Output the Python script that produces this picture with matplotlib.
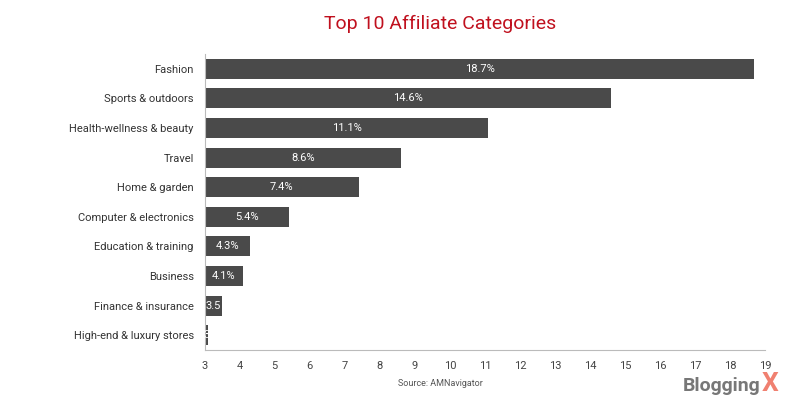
import matplotlib
matplotlib.use("Agg")
import matplotlib.pyplot as plt

categories = ["Fashion", "Sports & outdoors", "Health-wellness & beauty", "Travel",
              "Home & garden", "Computer & electronics", "Education & training",
              "Business", "Finance & insurance", "High-end & luxury stores"]
values = [18.7, 14.6, 11.1, 8.6, 7.4, 5.4, 4.3, 4.1, 3.5, 3.1]
labels = ["18.7%", "14.6%", "11.1%", "8.6%", "7.4%", "5.4%", "4.3%", "4.1%", "3.5", "3"]
ticks = list(range(3, 20))

plt.rcParams['font.family'] = ['Roboto', 'DejaVu Sans']
fig = plt.figure(figsize=(8, 4), dpi=100)
ax = fig.add_axes([0.256, 0.125, 0.70, 0.74])
base = 3
y = list(range(len(categories)))
ax.barh(y, [v - base for v in values], left=base, height=0.68, color="#4a4a4a")
for yi, v, lab in zip(y, values, labels):
    ax.text((base + v) / 2, yi, lab, ha="center", va="center", color="white", fontsize=8,
            clip_on=True)
ax.set_yticks(y)
ax.set_yticklabels(categories, fontsize=8, color="#333333")
ax.set_xticks(ticks)
ax.set_xticklabels([str(t) for t in ticks], fontsize=8, color="#444444")
ax.set_xlim(3, 19)
ax.set_ylim(len(categories) - 0.5, -0.5)
for s in ["top", "right"]:
    ax.spines[s].set_visible(False)
for s in ["left", "bottom"]:
    ax.spines[s].set_color("#bbbbbb")
ax.tick_params(length=0, pad=8)
fig.text(0.55, 0.94, "Top 10 Affiliate Categories", ha="center", va="center",
         fontsize=14, color="#c0101e")
fig.text(0.55, 0.04, "Source: AMNavigator", ha="center", va="center", fontsize=6.5, color="#555555")
fig.text(0.853, 0.035, "Blogging", ha="left", va="center", fontsize=14, fontweight="bold", color="#777777")
fig.text(0.952, 0.04, "X", ha="left", va="center", fontsize=19, fontweight="bold", color="#f08070")
fig.savefig("out.png")
